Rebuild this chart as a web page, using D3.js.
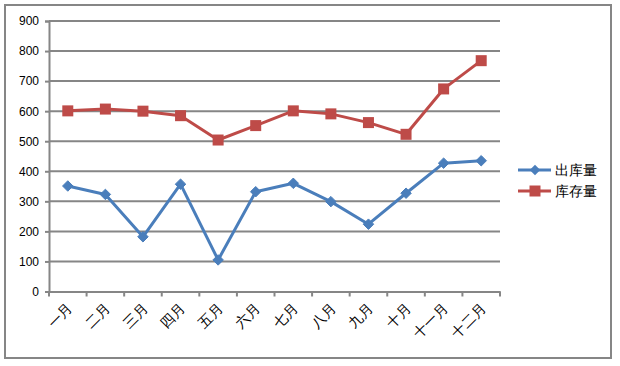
<!DOCTYPE html>
<html>
<head>
<meta charset="utf-8">
<script src="https://cdn.jsdelivr.net/npm/d3@7"></script>
<style>
  body { margin: 0; background: #fff; }
  text { font-family: "Liberation Sans", Arial, sans-serif; }
</style>
</head>
<body>
<script>
var months = ["一月", "二月", "三月", "四月", "五月", "六月", "七月", "八月", "九月", "十月", "十一月", "十二月"];
var outbound = [351, 323, 182, 357, 105, 332, 360, 299, 224, 327, 427, 435];
var stock = [601, 607, 600, 585, 504, 552, 601, 591, 562, 523, 674, 768];
var yTicks = [0, 100, 200, 300, 400, 500, 600, 700, 800, 900];
var seriesNames = ["出库量", "库存量"];
var seriesColors = ["#4a7ebb", "#be4b48"];

var width = 620, height = 366;

var svg = d3.select("body")
    .append("svg")
    .attr("width", width)
    .attr("height", height);

// chart border
svg.append("rect")
    .attr("x", 5)
    .attr("y", 5)
    .attr("width", 606)
    .attr("height", 353)
    .attr("fill", "#fff")
    .attr("stroke", "#868686")
    .attr("stroke-width", 2);

var x = d3.scaleBand()
    .domain(months)
    .range([49, 500]);

var y = d3.scaleLinear()
    .domain([0, 900])
    .range([291.5, 21]);

// gridlines
svg.append("g")
    .selectAll("line")
    .data(yTicks.slice(1))
    .enter()
    .append("line")
    .attr("x1", 49)
    .attr("x2", 500)
    .attr("y1", function(d) { return y(d); })
    .attr("y2", function(d) { return y(d); })
    .attr("stroke", "#868686")
    .attr("stroke-width", 2);

// y axis
var yAxis = svg.append("g")
    .attr("transform", "translate(49,0)")
    .call(d3.axisLeft(y).tickValues(yTicks).tickSize(4).tickPadding(6));
yAxis.select(".domain").attr("stroke", "#868686").attr("stroke-width", 2);
yAxis.selectAll(".tick line").attr("stroke", "#868686").attr("stroke-width", 2);
yAxis.selectAll("text")
    .attr("font-size", 12)
    .attr("font-family", "Liberation Sans, Arial, sans-serif")
    .attr("fill", "#000");

// x axis
var xAxis = svg.append("g")
    .attr("transform", "translate(0," + y(0) + ")")
    .call(d3.axisBottom(x).tickSize(0).tickSizeOuter(0));
xAxis.select(".domain").attr("stroke", "#868686").attr("stroke-width", 2);
xAxis.selectAll(".tick text")
    .attr("font-size", 14)
    .attr("font-family", "Noto Sans CJK SC, sans-serif")
    .attr("fill", "#000")
    .attr("text-anchor", "end")
    .attr("dy", null)
    .attr("y", null)
    .attr("transform", "translate(2,14) rotate(-45)")
    .attr("dominant-baseline", "central");

// x tick marks at category boundaries
svg.append("g")
    .selectAll("line")
    .data(months.map(function(m) { return x(m); }).concat([x.range()[1]]))
    .enter()
    .append("line")
    .attr("x1", function(d) { return d; })
    .attr("x2", function(d) { return d; })
    .attr("y1", y(0))
    .attr("y2", y(0) + 5)
    .attr("stroke", "#868686")
    .attr("stroke-width", 2);

var cx = function(d, i) { return x(months[i]) + x.bandwidth() / 2; };
var line = d3.line()
    .x(cx)
    .y(function(d) { return y(d); });

var series = [outbound, stock];
series.forEach(function(vals, s) {
    svg.append("path")
        .datum(vals)
        .attr("d", line)
        .attr("fill", "none")
        .attr("stroke", seriesColors[s])
        .attr("stroke-width", 3)
        .attr("stroke-linejoin", "round");
});

// markers
svg.append("g")
    .selectAll("path")
    .data(outbound)
    .enter()
    .append("path")
    .attr("d", d3.symbol().type(d3.symbolDiamond2).size(70))
    .attr("transform", function(d, i) { return "translate(" + cx(d, i) + "," + y(d) + ")"; })
    .attr("fill", seriesColors[0])
    .attr("stroke", seriesColors[0])
    .attr("stroke-width", 1);

svg.append("g")
    .selectAll("rect")
    .data(stock)
    .enter()
    .append("rect")
    .attr("x", function(d, i) { return cx(d, i) - 5.5; })
    .attr("y", function(d) { return y(d) - 5.5; })
    .attr("width", 11)
    .attr("height", 11)
    .attr("fill", seriesColors[1]);

// legend
var legend = svg.append("g")
    .selectAll("g")
    .data(seriesNames)
    .enter()
    .append("g")
    .attr("transform", function(d, i) { return "translate(518," + (170 + i * 21) + ")"; });

legend.append("line")
    .attr("x1", 0)
    .attr("x2", 33)
    .attr("stroke", function(d, i) { return seriesColors[i]; })
    .attr("stroke-width", 3);

legend.append("path")
    .attr("d", function(d, i) {
        return i === 0 ? d3.symbol().type(d3.symbolDiamond2).size(70)() : "M-5.5,-5.5H5.5V5.5H-5.5Z";
    })
    .attr("transform", "translate(17,0)")
    .attr("fill", function(d, i) { return seriesColors[i]; });

legend.append("text")
    .attr("x", 37)
    .attr("dominant-baseline", "central")
    .attr("font-size", 14)
    .attr("font-family", "Noto Sans CJK SC, sans-serif")
    .attr("fill", "#000")
    .text(function(d) { return d; });
</script>
</body>
</html>
